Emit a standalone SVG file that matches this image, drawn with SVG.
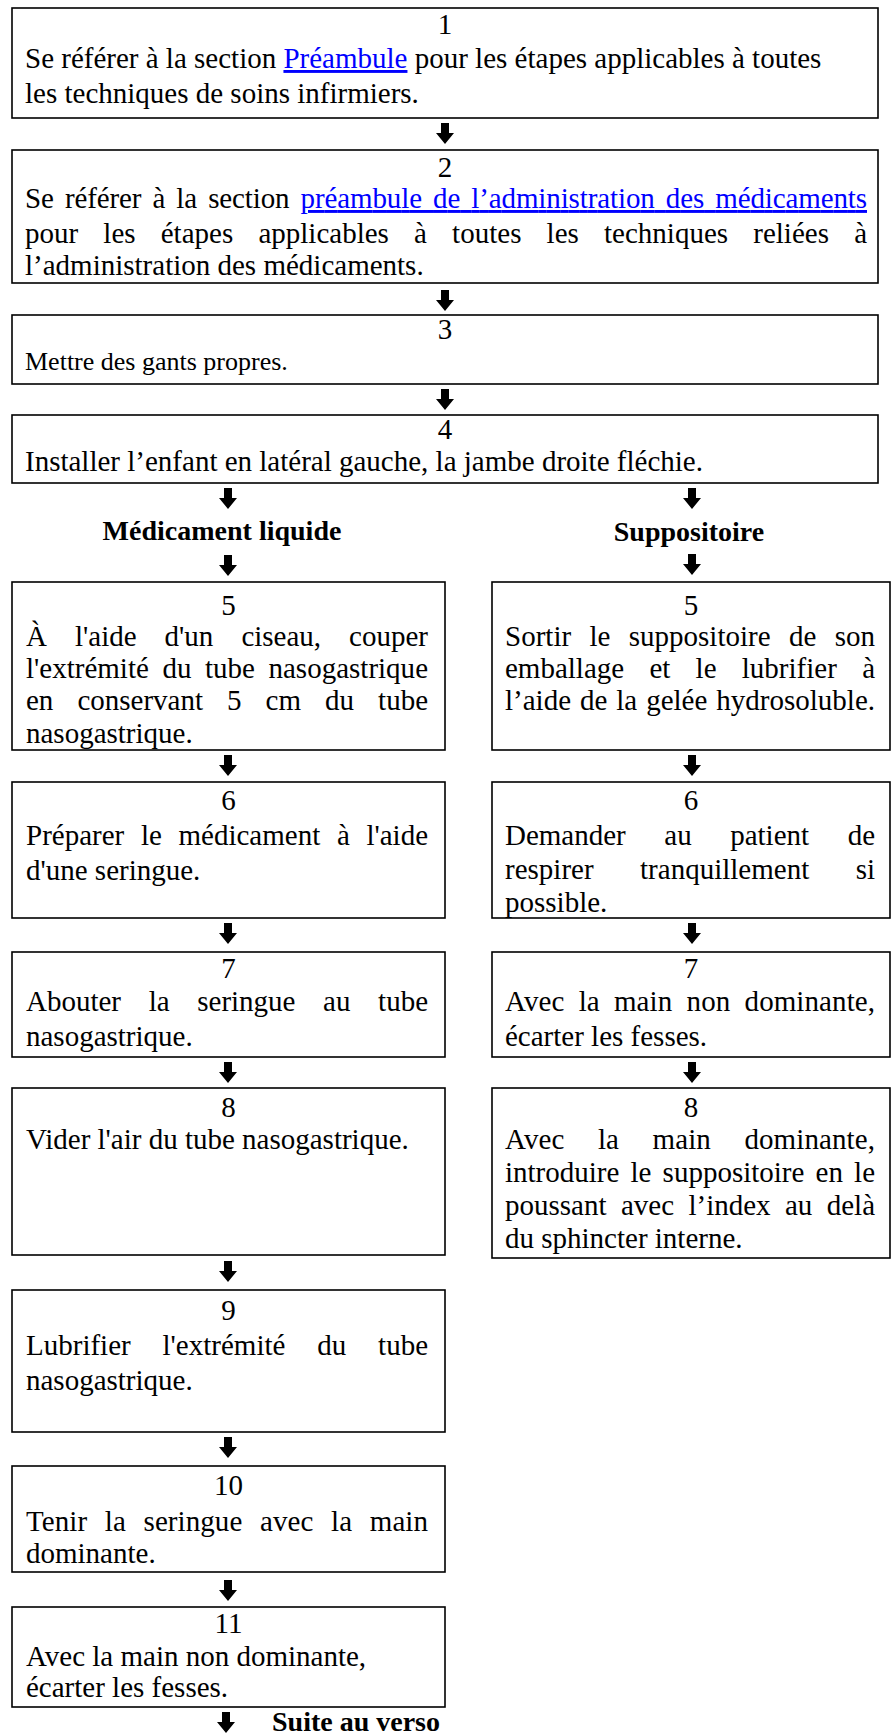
<svg xmlns="http://www.w3.org/2000/svg" xmlns:xlink="http://www.w3.org/1999/xlink" width="892" height="1735" viewBox="0 0 892 1735">
<style>
  text { font-family: "Liberation Serif", "Times New Roman", serif; font-size: 29px; fill: #000; }
  .num { text-anchor: middle; }
  .sm { font-size: 26px; }
  .bold { font-weight: bold; font-size: 28px; }
  .link { fill: #0000FF; text-decoration: underline; }
  rect.box { fill: #fff; stroke: #000; stroke-width: 1.6; }
  .arrow { fill: #000; }
</style>
<defs>
  <path id="darr" d="M-4,0 H4 V10 H9 L0,21 L-9,10 H-4 Z"/>
</defs>
<rect width="892" height="1735" fill="#fff"/>

<g id="connectors" class="arrow">
  <use xlink:href="#darr" x="445" y="123"/>
  <use xlink:href="#darr" x="445" y="290"/>
  <use xlink:href="#darr" x="445" y="389"/>
  <use xlink:href="#darr" x="228" y="488"/>
  <use xlink:href="#darr" x="692" y="488"/>
  <use xlink:href="#darr" x="228" y="555"/>
  <use xlink:href="#darr" x="692" y="554"/>
  <use xlink:href="#darr" x="228" y="755"/>
  <use xlink:href="#darr" x="692" y="755"/>
  <use xlink:href="#darr" x="228" y="923"/>
  <use xlink:href="#darr" x="692" y="923"/>
  <use xlink:href="#darr" x="228" y="1062"/>
  <use xlink:href="#darr" x="692" y="1062"/>
  <use xlink:href="#darr" x="228" y="1261"/>
  <use xlink:href="#darr" x="228" y="1437"/>
  <use xlink:href="#darr" x="228" y="1580"/>
  <use xlink:href="#darr" x="226" y="1712"/>
</g>

<g id="step1">
  <rect class="box" x="12" y="8" width="866" height="110"/>
  <text class="num" x="445" y="34">1</text>
  <text x="25" y="68">Se référer à la section <tspan class="link">Préambule</tspan> pour les étapes applicables à toutes</text>
  <text x="25" y="103">les techniques de soins infirmiers.</text>
</g>

<g id="step2">
  <rect class="box" x="12" y="150" width="866" height="133"/>
  <text class="num" x="445" y="177">2</text>
  <text x="25" y="208" textLength="842" lengthAdjust="spacing" style="word-spacing:4px">Se référer à la section <tspan class="link">préambule de l’administration des médicaments</tspan></text>
  <text x="25" y="243" textLength="842" lengthAdjust="spacing" style="word-spacing:17.9px">pour les étapes applicables à toutes les techniques reliées à</text>
  <text x="25" y="275">l’administration des médicaments.</text>
</g>

<g id="step3">
  <rect class="box" x="12" y="315" width="866" height="69"/>
  <text class="num" x="445" y="339">3</text>
  <text class="sm" x="25" y="370">Mettre des gants propres.</text>
</g>

<g id="step4">
  <rect class="box" x="12" y="415" width="866" height="68"/>
  <text class="num" x="445" y="439">4</text>
  <text x="25" y="471">Installer l’enfant en latéral gauche, la jambe droite fléchie.</text>
</g>

<g id="label-liquide">
  <text class="bold num" x="222" y="540">Médicament liquide</text>
</g>
<g id="label-suppositoire">
  <text class="bold num" x="689" y="541">Suppositoire</text>
</g>

<g id="liq5">
  <rect class="box" x="12" y="582" width="433" height="168"/>
  <text class="num" x="228.5" y="615">5</text>
  <text x="26" y="646" textLength="402" lengthAdjust="spacing" style="word-spacing:20.8px">À l'aide d'un ciseau, couper</text>
  <text x="26" y="678" textLength="402" lengthAdjust="spacing" style="word-spacing:6.3px">l'extrémité du tube nasogastrique</text>
  <text x="26" y="710" textLength="402" lengthAdjust="spacing" style="word-spacing:16.8px">en conservant 5 cm du tube</text>
  <text x="26" y="743">nasogastrique.</text>
</g>

<g id="sup5">
  <rect class="box" x="492" y="582" width="398" height="168"/>
  <text class="num" x="691" y="615">5</text>
  <text x="505" y="646" textLength="370" lengthAdjust="spacing" style="word-spacing:11.1px">Sortir le suppositoire de son</text>
  <text x="505" y="678" textLength="370" lengthAdjust="spacing" style="word-spacing:18px">emballage et le lubrifier à</text>
  <text x="505" y="710" textLength="370" lengthAdjust="spacing" style="word-spacing:1.7px">l’aide de la gelée hydrosoluble.</text>
</g>

<g id="liq6">
  <rect class="box" x="12" y="782" width="433" height="136"/>
  <text class="num" x="228.5" y="810">6</text>
  <text x="26" y="845" textLength="402" lengthAdjust="spacing" style="word-spacing:9.4px">Préparer le médicament à l'aide</text>
  <text x="26" y="880">d'une seringue.</text>
</g>

<g id="sup6">
  <rect class="box" x="492" y="782" width="398" height="136"/>
  <text class="num" x="691" y="810">6</text>
  <text x="505" y="845" textLength="370" lengthAdjust="spacing" style="word-spacing:31.3px">Demander au patient de</text>
  <text x="505" y="879" textLength="370" lengthAdjust="spacing" style="word-spacing:39.2px">respirer tranquillement si</text>
  <text x="505" y="912">possible.</text>
</g>

<g id="liq7">
  <rect class="box" x="12" y="952" width="433" height="105"/>
  <text class="num" x="228.5" y="978">7</text>
  <text x="26" y="1011" textLength="402" lengthAdjust="spacing" style="word-spacing:20.4px">Abouter la seringue au tube</text>
  <text x="26" y="1046">nasogastrique.</text>
</g>

<g id="sup7">
  <rect class="box" x="492" y="952" width="398" height="105"/>
  <text class="num" x="691" y="978">7</text>
  <text x="505" y="1011" textLength="370" lengthAdjust="spacing" style="word-spacing:6.9px">Avec la main non dominante,</text>
  <text x="505" y="1046">écarter les fesses.</text>
</g>

<g id="liq8">
  <rect class="box" x="12" y="1088" width="433" height="167"/>
  <text class="num" x="228.5" y="1117">8</text>
  <text x="26" y="1149">Vider l'air du tube nasogastrique.</text>
</g>

<g id="sup8">
  <rect class="box" x="492" y="1088" width="398" height="170"/>
  <text class="num" x="691" y="1117">8</text>
  <text x="505" y="1149" textLength="370" lengthAdjust="spacing" style="word-spacing:26.1px">Avec la main dominante,</text>
  <text x="505" y="1182" textLength="370" lengthAdjust="spacing" style="word-spacing:3.9px">introduire le suppositoire en le</text>
  <text x="505" y="1215" textLength="370" lengthAdjust="spacing" style="word-spacing:7.1px">poussant avec l’index au delà</text>
  <text x="505" y="1248">du sphincter interne.</text>
</g>

<g id="liq9">
  <rect class="box" x="12" y="1290" width="433" height="142"/>
  <text class="num" x="228.5" y="1320">9</text>
  <text x="26" y="1355" textLength="402" lengthAdjust="spacing" style="word-spacing:24.6px">Lubrifier l'extrémité du tube</text>
  <text x="26" y="1390">nasogastrique.</text>
</g>

<g id="liq10">
  <rect class="box" x="12" y="1466" width="433" height="106"/>
  <text class="num" x="228.5" y="1495">10</text>
  <text x="26" y="1531" textLength="402" lengthAdjust="spacing" style="word-spacing:10.3px">Tenir la seringue avec la main</text>
  <text x="26" y="1563">dominante.</text>
</g>

<g id="liq11">
  <rect class="box" x="12" y="1607" width="433" height="100"/>
  <text class="num" x="228.5" y="1633">11</text>
  <text x="26" y="1666">Avec la main non dominante,</text>
  <text x="26" y="1697">écarter les fesses.</text>
</g>

<g id="label-suite">
  <text class="bold" x="272" y="1731">Suite au verso</text>
</g>
</svg>
